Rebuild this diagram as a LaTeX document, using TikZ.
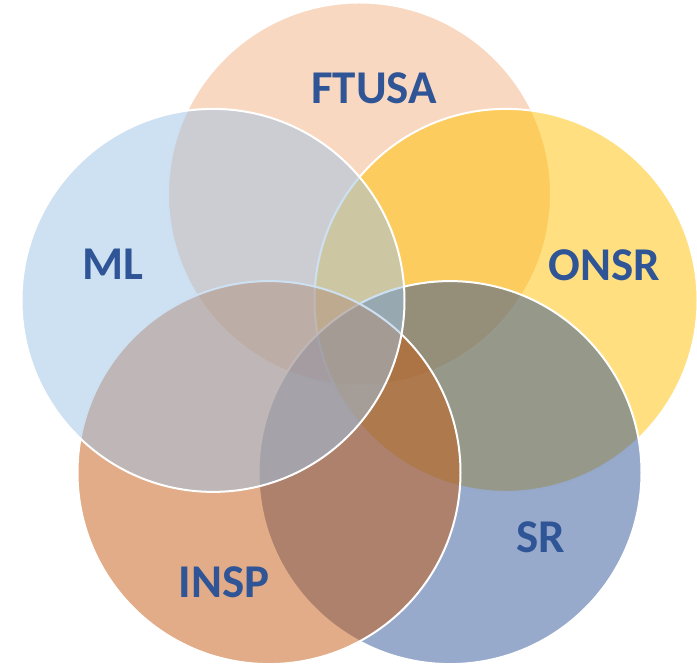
\documentclass[tikz,border=0pt]{standalone}
\usepackage{fontspec}
\setmainfont{Carlito}
\begin{document}
\begin{tikzpicture}[x=1pt,y=1pt]
  \definecolor{peach}{HTML}{F4B183}
  \definecolor{skyblue}{HTML}{9DC3E6}
  \definecolor{gold}{HTML}{FFC000}
  \definecolor{rust}{HTML}{C55A11}
  \definecolor{navy}{HTML}{2F5597}
  \tikzset{
    venn/.style={circle, draw=white, line width=2pt, fill opacity=0.5,
      minimum size=383pt, inner sep=0pt},
    lbl/.style={text=navy, inner sep=0pt,
      font=\fontsize{47}{47}\selectfont\bfseries}
  }
  \useasboundingbox (0,0) rectangle (697,668);
  % five overlapping circles on a regular pentagon, drawn clockwise from the top
  \node[venn, fill=peach]   (ftusa) at (359.5,474.0) {};
  \node[venn, fill=gold]    (onsr)  at (506.0,367.6) {};
  \node[venn, fill=navy]    (sr)    at (450.0,195.4) {};
  \node[venn, fill=rust]    (insp)  at (269.0,195.4) {};
  \node[venn, fill=skyblue] (ml)    at (213.0,367.6) {};
  % labels
  \node[lbl] (tftusa) at (374,580) {FTUSA};
  \node[lbl] (tml)    at (113,404) {ML};
  \node[lbl] (tonsr)  at (604,403) {ONSR};
  \node[lbl] (tsr)    at (541,131) {SR};
  \node[lbl] (tinsp)  at (224,86)  {INSP};
\end{tikzpicture}
\end{document}
